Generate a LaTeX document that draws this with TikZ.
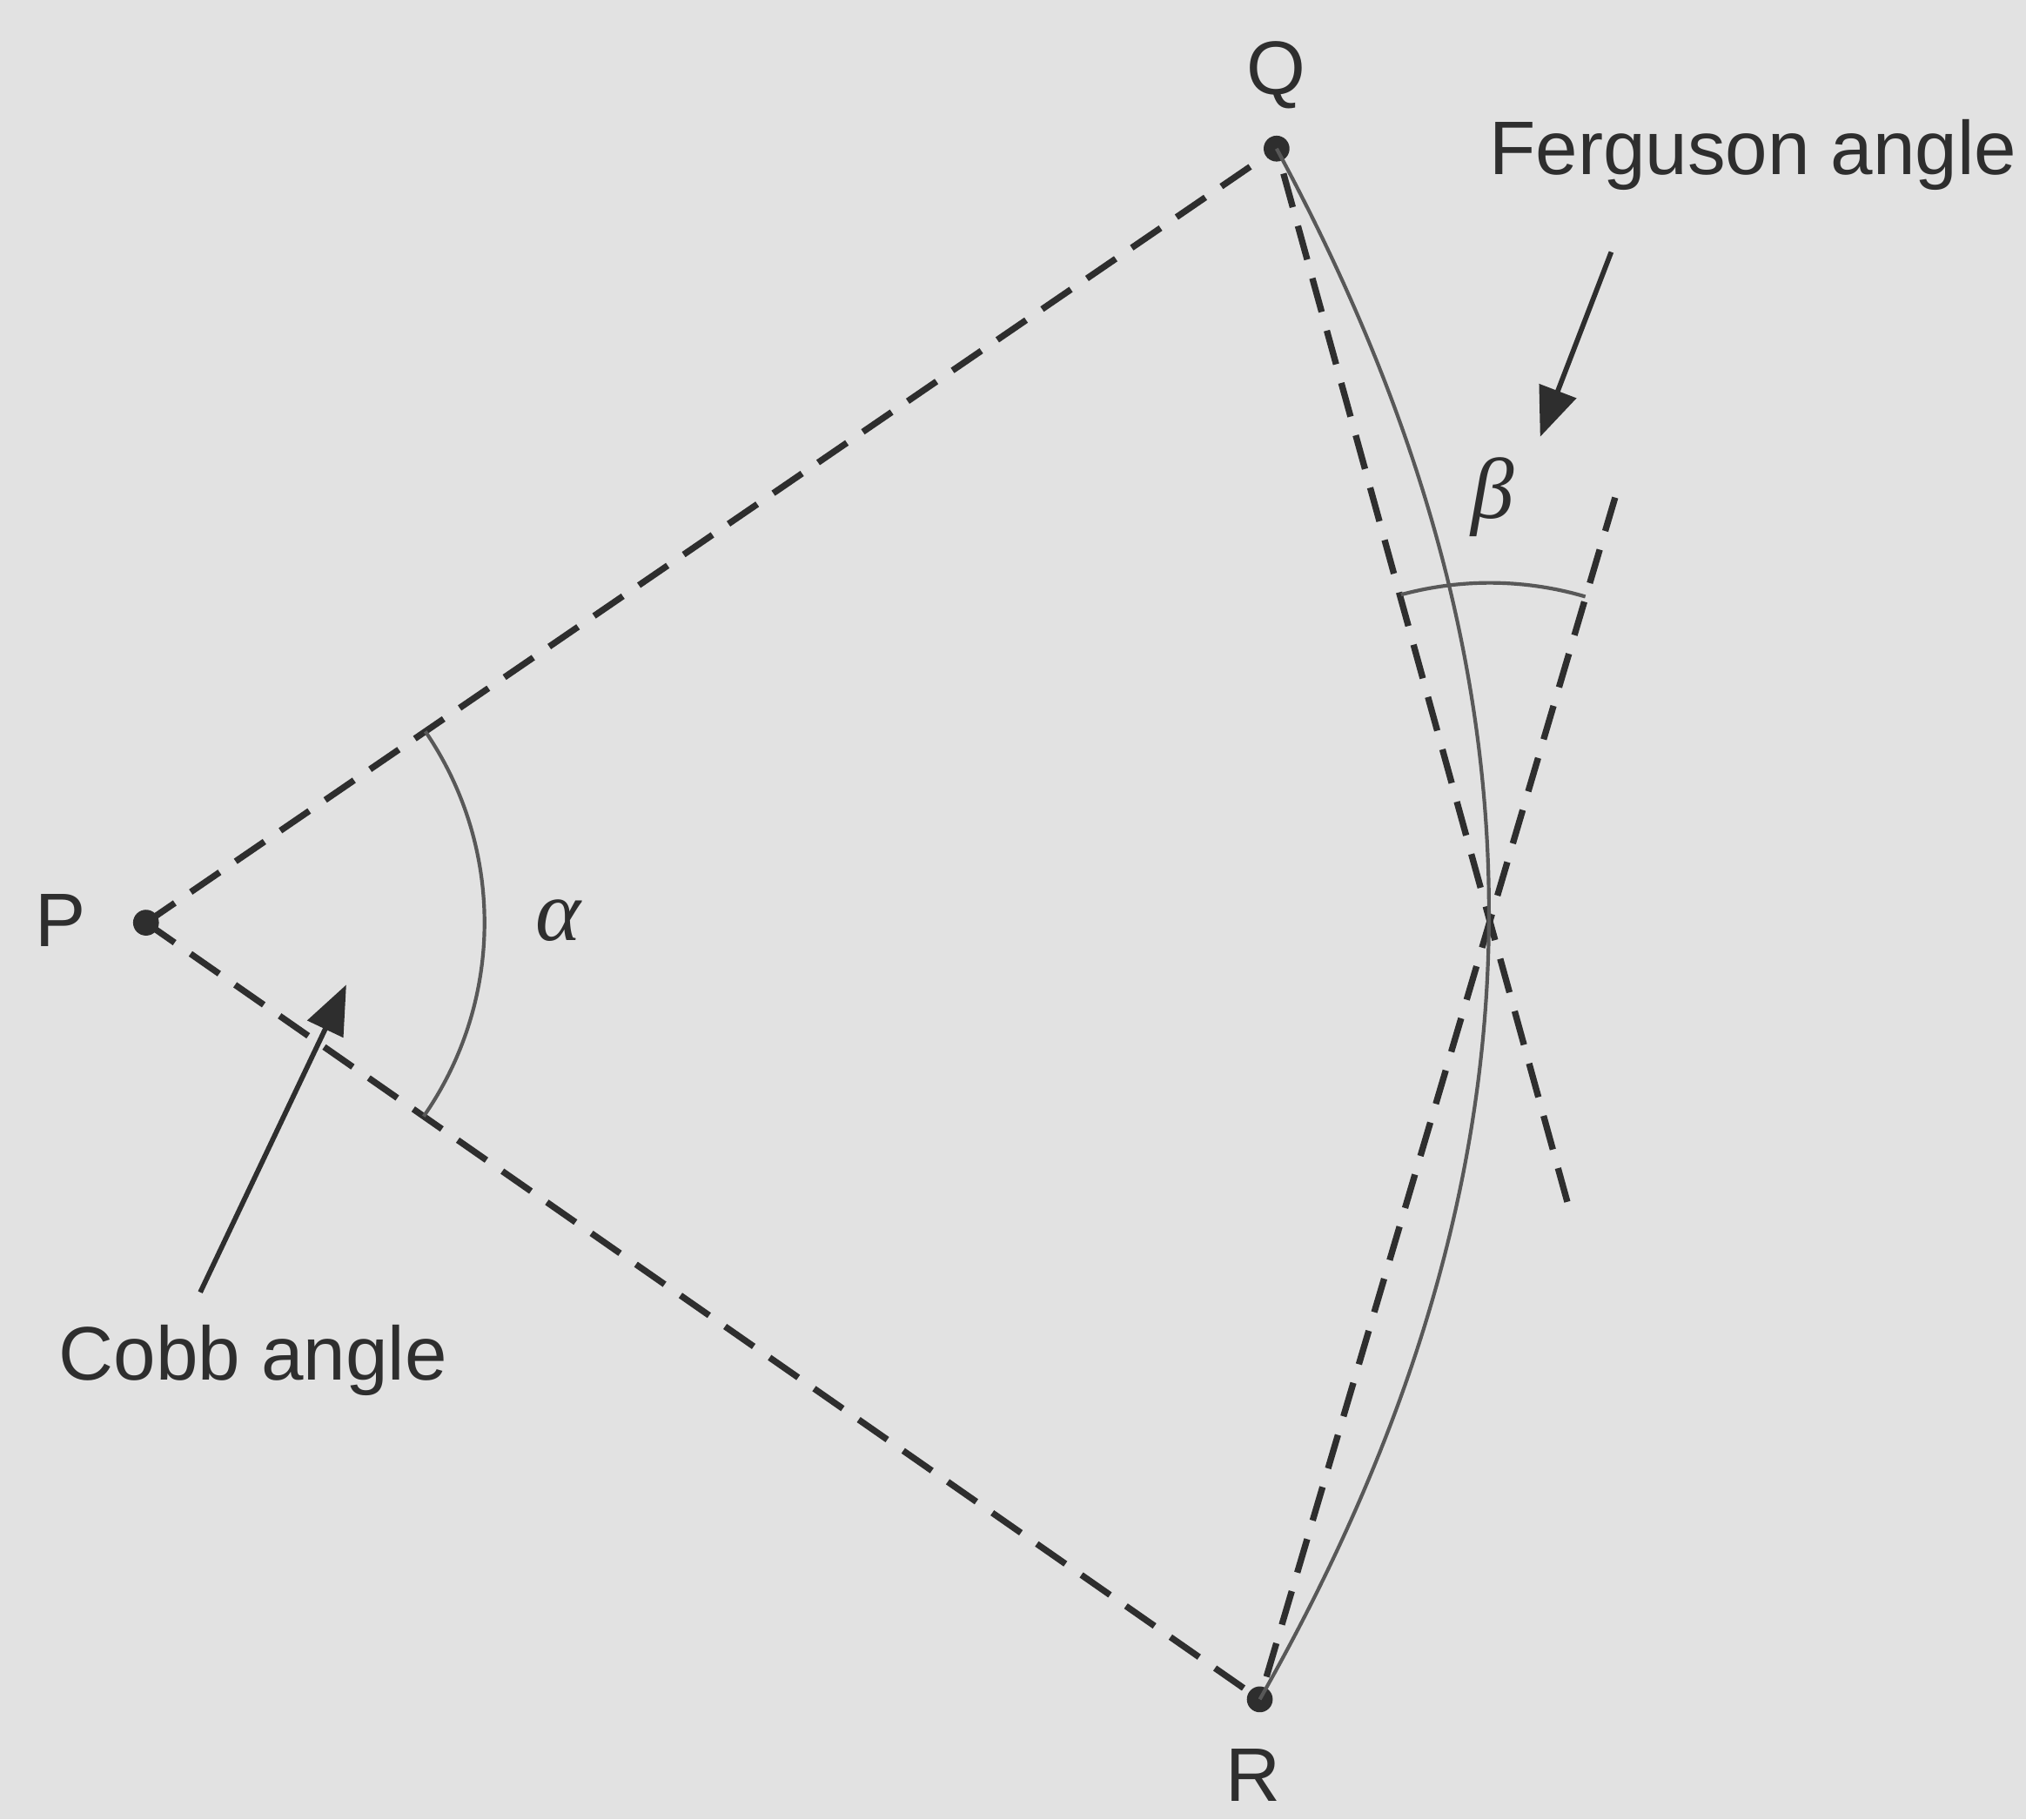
\documentclass[tikz,border=0pt]{standalone}
\usepackage{fontspec}
\setmainfont{Liberation Sans}
\newfontfamily\greekfont{Liberation Serif}
\usetikzlibrary{arrows.meta}
\definecolor{ink}{HTML}{2E2E2E}
\definecolor{bg}{HTML}{E2E2E2}
\begin{document}
\begin{tikzpicture}[x=0.01cm,y=0.01cm,
  lbl/.style={font=\fontsize{16.7}{20}\selectfont, text=ink, inner sep=0pt},
  glbl/.style={font=\fontsize{19}{22}\selectfont\greekfont\itshape, text=ink, inner sep=0pt},
  dashln/.style={draw=ink, line width=1.4pt, dash pattern=on 0.27cm off 0.15cm},
  thinln/.style={draw=ink!80, line width=0.8pt},
  ptr/.style={draw=ink, line width=1.1pt, -{Triangle[length=0.38cm,width=0.3cm]}},
  dot/.style={circle, fill=ink, inner sep=0pt, minimum size=0.2cm}]
\fill[bg] (0,0) rectangle (1568,-1408);
\useasboundingbox (0,0) rectangle (1568,-1408);
% points
\node[dot] (P) at (113,-714) {};
\node[dot] (Q) at (988,-115) {};
\node[dot] (R) at (975,-1315) {};
\node[lbl] (Plab) at (47,-712) {P};
\node[lbl] (Qlab) at (988,-58) {Q};
\node[lbl] (Rlab) at (970,-1374) {R};
% Cobb construction
\draw[dashln] (P.center) -- (Q.center);
\draw[dashln] (P.center) -- (R.center);
\draw[thinln] (P.center) ++(34.4:262) arc[start angle=34.4, end angle=-34.9, radius=262];
\node[glbl] (alpha) at (432,-712) {α};
% Ferguson construction
\coordinate (Qend) at (1213,-930);
\coordinate (Rend) at (1250,-385);
\coordinate (X) at (1153,-713);
\draw[dashln] (Qend) -- (Q.center);
\draw[dashln] (Rend) -- (R.center);
\draw[thinln] (Q.center) to[bend left=29] (R.center);
\draw[thinln] (X) ++(73.6:262) arc[start angle=73.6, end angle=105.2, radius=262];
\node[glbl] (beta) at (1155,-385) {β};
% labels and pointers
\node[lbl, anchor=west] (cobb) at (45,-1053) {Cobb angle};
\coordinate (cobbtail) at (155,-1000);
\coordinate (cobbtip) at (268,-762);
\draw[ptr] (cobbtail) -- (cobbtip);
\node[lbl, anchor=west] (ferg) at (1152,-120) {Ferguson angle};
\coordinate (fergtail) at (1247,-195);
\coordinate (fergtip) at (1192,-338);
\draw[ptr] (fergtail) -- (fergtip);
\end{tikzpicture}
\end{document}
